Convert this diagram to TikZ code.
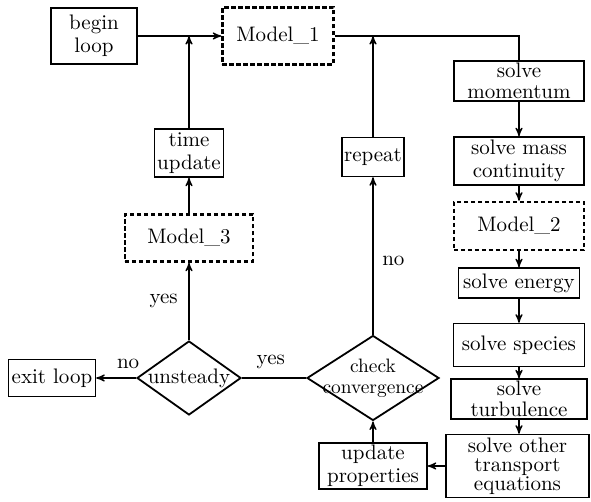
\documentclass[tikz,border=0pt]{standalone}
\usepackage{tikz}
\usetikzlibrary{arrows,shapes}
\tikzstyle{box}=[draw,line width=0.7pt,align=center,inner sep=1pt,font=\fontsize{10.5}{11.5}\selectfont]
\tikzstyle{model}=[draw,line width=1.2pt,dash pattern=on 2.2pt off 1.3pt,align=center,font=\fontsize{10.5}{11.5}\selectfont]
\tikzstyle{test}=[diamond,draw,line width=0.9pt,align=center,inner sep=-2pt,font=\fontsize{9.7}{10.5}\selectfont]
\tikzstyle{edge} = [draw,line width=0.6pt,->,>=stealth']
\tikzstyle{lbl}=[font=\fontsize{10.5}{11.5}\selectfont]

\begin{document}
\begin{tikzpicture}[x=0.5pt,y=-0.5pt]
    \useasboundingbox (0,0) rectangle (591,502);
    % left and middle part
    \node[box,minimum width=43pt,minimum height=28pt] (begin) at (94,36) {begin\\loop};
    \node[model,minimum width=55.5pt,minimum height=28.5pt] (model1) at (278,36) {Model\_1};
    \node[box,minimum width=34.5pt,minimum height=24pt] (time) at (189,153) {time\\update};
    \node[model,minimum width=64pt,minimum height=23.5pt] (model3) at (189,238) {Model\_3};
    \node[test,aspect=1.45,minimum width=52pt,minimum height=37pt,font=\fontsize{10.5}{11.5}\selectfont] (unsteady) at (189,378) {unsteady};
    \node[box,minimum width=43.5pt,minimum height=18.5pt] (exit) at (52,378) {exit loop};
    \node[test,aspect=1.6,inner sep=-5pt,minimum width=66pt,minimum height=42.5pt] (check) at (373,378) {check\\convergence};
    \node[box,minimum width=31pt,minimum height=19.5pt] (repeat) at (373,157) {repeat};
    \node[box,minimum width=54pt,minimum height=22.5pt] (update) at (373,466) {update\\properties};
    % right column
    \node[box,minimum width=65pt,minimum height=19pt] (mom) at (519,81) {solve\\[-1pt]momentum};
    \node[box,minimum width=65pt,minimum height=24pt] (mass) at (519,161) {solve mass\\continuity};
    \node[model,minimum width=65pt,minimum height=24pt] (model2) at (519,226) {Model\_2};
    \node[box,minimum width=60.5pt,minimum height=15pt] (energy) at (519,283) {solve energy};
    \node[box,minimum width=65.5pt,minimum height=21.5pt] (species) at (519,345) {solve species};
    \node[box,minimum width=68pt,minimum height=19pt] (turb) at (519,399) {solve\\[-1pt]turbulence};
    \node[box,minimum width=71.5pt,minimum height=31.5pt] (other) at (517.5,466) {solve other\\[-2pt]transport\\[-2pt]equations};
    % junctions on the top line
    \coordinate (j1) at (time.north |- model1.west);
    \coordinate (j2) at (repeat.north |- model1.west);
    % connect the boxes
    \foreach \source/\dest in {begin/model1, time/j1, model3/time, repeat/j2, mom/mass, mass/model2, model2/energy, energy/species, species/turb, other/update, update/check}
        \path[edge] (\source) -- (\dest);
    \path[edge] (turb.south) -- (turb.south |- other.north);
    \path[edge] (unsteady.north) -- node[lbl,left=2pt] {yes} (model3.south);
    \path[edge] (unsteady.west) -- node[lbl,above=1pt,pos=0.2] {no} (exit.east);
    \path[edge] (check.north) -- node[lbl,right=1pt,pos=0.47] {no} (repeat.south);
    \path[edge,-] (check.west) -- node[lbl,above=1pt,pos=0.55] {yes} (unsteady.east);
    \path[edge,-] (model1.east) -| (mom.north);
\end{tikzpicture}
\end{document}
